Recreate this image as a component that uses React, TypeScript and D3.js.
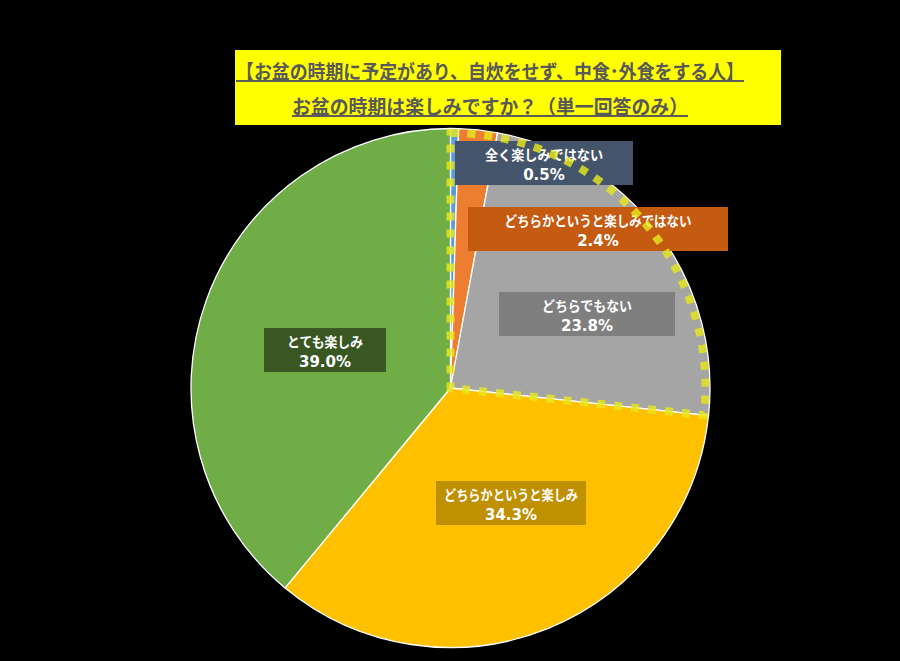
import React from "react";
import * as d3 from "d3";

const categories = [
  "全く楽しみではない",
  "どちらかというと楽しみではない",
  "どちらでもない",
  "どちらかというと楽しみ",
  "とても楽しみ",
];
const values = [0.5, 2.4, 23.8, 34.3, 39.0];
const sliceColors = ["#5b9bd5", "#ed7d31", "#a5a5a5", "#ffc000", "#70ad47"];
const boxColors = ["#44546a", "#c55a11", "#7f7f7f", "#bf9000", "#385723"];
const titleLines = [
  "【お盆の時期に予定があり、自炊をせず、中食･外食をする人】",
  "お盆の時期は楽しみですか？（単一回答のみ）",
];
// highlighted group: first three categories
const highlightCount = 3;

// label box layout (center x, top y, width, category text width)
const labelLayout = [
  { cx: 544, top: 141, w: 178, tw: 118 },
  { cx: 598, top: 207, w: 260, tw: 187 },
  { cx: 587, top: 292, w: 176, tw: 90 },
  { cx: 511, top: 481, w: 150, tw: 134 },
  { cx: 325, top: 328, w: 122, tw: 76 },
];

const W = 900;
const H = 661;
const CX = 450.5;
const CY = 388;
const R = 259.5;
const FONT = "'Noto Sans CJK JP', 'Noto Sans', sans-serif";
const NUMFONT = "'DejaVu Sans', 'Liberation Sans', sans-serif";

export default function App() {
  const pie = d3
    .pie<number>()
    .sort(null)
    .value((d) => d)
    .startAngle(0)
    .endAngle(2 * Math.PI);
  const arcs = pie(values);
  const arcGen = d3.arc<d3.PieArcDatum<number>>().innerRadius(0).outerRadius(R);

  const total = d3.sum(values);
  const hlEnd = (d3.sum(values.slice(0, highlightCount)) / total) * 2 * Math.PI;
  const hlPath = d3.arc()({
    innerRadius: 0,
    outerRadius: R - 4.5,
    startAngle: 0,
    endAngle: hlEnd,
  } as any) as string;

  return (
    <div style={{ position: "fixed", left: 0, top: 0, width: W, height: H, background: "#000" }}>
      <svg width={W} height={H} style={{ display: "block" }}>
        <rect x={0} y={0} width={W} height={H} fill="#000" />
        {/* title */}
        <rect x={235} y={50} width={546} height={75} fill="#ffff00" />
        <text
          x={490}
          y={79}
          textAnchor="middle"
          fontFamily={FONT}
          fontWeight="bold"
          fontSize={19.5}
          fill="#595959"
          textLength={508}
          lengthAdjust="spacingAndGlyphs"
          style={{ textDecoration: "underline" }}
        >
          {titleLines[0]}
        </text>
        <text
          x={490}
          y={114}
          textAnchor="middle"
          fontFamily={FONT}
          fontWeight="bold"
          fontSize={19.5}
          fill="#595959"
          textLength={396}
          lengthAdjust="spacingAndGlyphs"
          style={{ textDecoration: "underline" }}
        >
          {titleLines[1]}
        </text>

        {/* pie */}
        <g transform={`translate(${CX},${CY})`}>
          {arcs.map((a, i) => (
            <path
              key={categories[i]}
              d={arcGen(a) as string}
              fill={sliceColors[i]}
              stroke="#ffffff"
              strokeWidth={1.3}
              strokeLinejoin="round"
            />
          ))}
        </g>

        {/* labels */}
        {categories.map((c, i) => {
          const L = labelLayout[i];
          return (
            <g key={"lab" + i}>
              <rect x={L.cx - L.w / 2} y={L.top} width={L.w} height={44} fill={boxColors[i]} />
              <text
                x={L.cx}
                y={L.top + 19}
                textAnchor="middle"
                fontFamily={FONT}
                fontWeight="bold"
                fontSize={14}
                fill="#ffffff"
                textLength={L.tw}
                lengthAdjust="spacingAndGlyphs"
              >
                {c}
              </text>
              <text
                x={L.cx}
                y={L.top + 39}
                textAnchor="middle"
                fontFamily={NUMFONT}
                fontWeight="bold"
                fontSize={15}
                fill="#ffffff"
              >
                {values[i].toFixed(1) + "%"}
              </text>
            </g>
          );
        })}

        {/* highlight dashed outline */}
        <g transform={`translate(${CX},${CY})`}>
          <path
            d={hlPath}
            fill="none"
            stroke="#e6e61e"
            strokeOpacity={0.82}
            strokeWidth={8}
            strokeDasharray="8 9"
          />
        </g>
      </svg>
    </div>
  );
}
